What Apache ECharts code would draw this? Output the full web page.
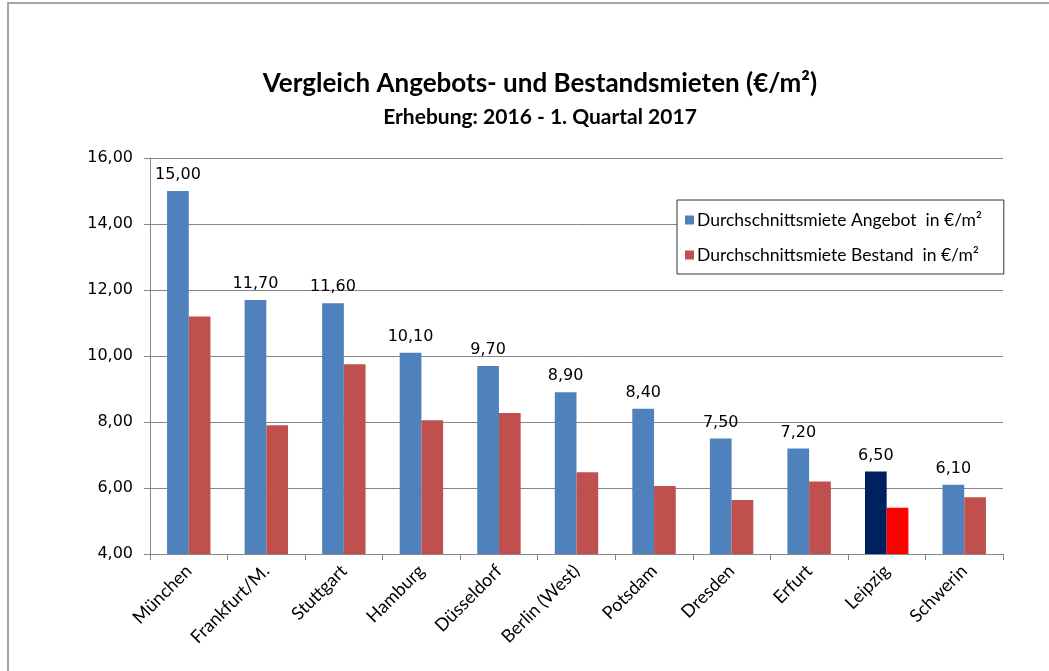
<!DOCTYPE html>
<html>
<head>
<meta charset="utf-8">
<title>Vergleich Angebots- und Bestandsmieten</title>
<script src="https://cdn.jsdelivr.net/npm/echarts@6/dist/echarts.min.js"></script>
<style>
  html, body { margin: 0; padding: 0; background: #fff; }
  #main { width: 1049px; height: 671px; }
</style>
</head>
<body>
<div id="main"></div>
<script type="text/javascript">
    // Daten
    var staedte = ['München', 'Frankfurt/M.', 'Stuttgart', 'Hamburg', 'Düsseldorf', 'Berlin (West)', 'Potsdam', 'Dresden', 'Erfurt', 'Leipzig', 'Schwerin'];
    var angebot = [15.0, 11.7, 11.6, 10.1, 9.7, 8.9, 8.4, 7.5, 7.2, 6.5, 6.1];
    var bestand = [11.2, 7.9, 9.75, 8.05, 8.27, 6.48, 6.06, 5.64, 6.2, 5.4, 5.72];
    var hervorgehoben = 'Leipzig';

    var fmt = function (v) { return v.toFixed(2).replace('.', ','); };

    var myChart = echarts.init(document.getElementById('main'));

    myChart.setOption({
        animation: false,
        title: [{
            text: 'Vergleich Angebots- und Bestandsmieten (€/m²)',
            left: 535,
            top: 66,
            textAlign: 'center',
            textStyle: { fontFamily: 'Lato', fontWeight: 'bold', fontSize: 26, color: '#000' }
        }, {
            text: 'Erhebung: 2016 - 1. Quartal 2017',
            left: 535,
            top: 102,
            textAlign: 'center',
            textStyle: { fontFamily: 'Lato', fontWeight: 'bold', fontSize: 21, color: '#000' }
        }],
        legend: {
            orient: 'vertical',
            left: 677,
            top: 200,
            padding: [11, 22, 10, 8],
            itemGap: 17,
            itemWidth: 9,
            itemHeight: 9,
            borderColor: '#333',
            borderWidth: 1,
            backgroundColor: '#fff',
            textStyle: { fontFamily: 'Lato', fontSize: 17.5, color: '#000', padding: [0, 0, 0, -2] },
            data: [
                { name: 'Durchschnittsmiete Angebot  in €/m²', icon: 'rect', itemStyle: { color: '#4F81BD' } },
                { name: 'Durchschnittsmiete Bestand  in €/m²', icon: 'rect', itemStyle: { color: '#C0504D' } }
            ]
        },
        graphic: [{
            type: 'rect',
            shape: { x: 8, y: 3, width: 1200, height: 800 },
            style: { fill: 'none', stroke: '#a6a6a6', lineWidth: 2 },
            silent: true
        }],
        grid: { left: 150, right: 46, top: 158, bottom: 117 },
        xAxis: {
            type: 'category',
            data: staedte,
            axisLine: { lineStyle: { color: '#868686' } },
            axisTick: { show: true, length: 6, lineStyle: { color: '#868686' } },
            axisLabel: {
                rotate: 45,
                interval: 0,
                margin: 14,
                fontFamily: 'Lato',
                fontSize: 18,
                color: '#000'
            }
        },
        yAxis: {
            type: 'value',
            min: 4,
            max: 16,
            interval: 2,
            axisLine: { show: true, lineStyle: { color: '#868686' } },
            axisTick: { show: true, length: 6, lineStyle: { color: '#868686' } },
            splitLine: { lineStyle: { color: '#868686' } },
            axisLabel: {
                margin: 17,
                fontFamily: 'DejaVu Sans',
                fontSize: 16,
                color: '#000',
                formatter: fmt
            }
        },
        series: [{
            name: 'Durchschnittsmiete Angebot  in €/m²',
            type: 'bar',
            barWidth: '28%',
            barGap: '0%',
            data: angebot.map(function (v, i) {
                return staedte[i] === hervorgehoben ? { value: v, itemStyle: { color: '#002060' } } : v;
            }),
            itemStyle: { color: '#4F81BD' },
            label: {
                show: true,
                position: 'top',
                distance: 8,
                fontFamily: 'DejaVu Sans',
                fontSize: 16,
                color: '#000',
                formatter: function (p) { return fmt(p.value); }
            }
        }, {
            name: 'Durchschnittsmiete Bestand  in €/m²',
            type: 'bar',
            barWidth: '28%',
            data: bestand.map(function (v, i) {
                return staedte[i] === hervorgehoben ? { value: v, itemStyle: { color: '#FF0000' } } : v;
            }),
            itemStyle: { color: '#C0504D' }
        }]
    });
</script>
</body>
</html>
